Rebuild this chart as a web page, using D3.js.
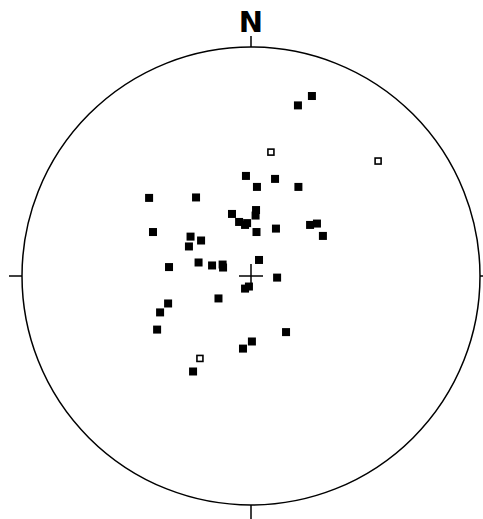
<!DOCTYPE html>
<html>
<head>
<meta charset="utf-8">
<script src="https://cdn.jsdelivr.net/npm/d3@7"></script>
<style>
  body { margin: 0; background: #fff; }
  svg { display: block; }
</style>
</head>
<body>
<div class="container"></div>
<script>
// projected positions on the net, unit circle (east, north)
var eastFilled = [0.266, 0.205, -0.022, 0.105, 0.026, 0.207, -0.445, -0.240, -0.083, 0.022,
    0.020, -0.052, -0.026, -0.017, 0.024, 0.109, 0.258, 0.288, 0.314, -0.428,
    -0.264, -0.218, -0.271, 0.035, -0.358, -0.229, -0.170, -0.124, -0.122, 0.114,
    -0.009, -0.026, -0.142, -0.362, -0.397, -0.410, 0.153, 0.004, -0.035, -0.253];
var northFilled = [0.786, 0.745, 0.437, 0.424, 0.389, 0.389, 0.341, 0.343, 0.271, 0.288,
    0.264, 0.236, 0.223, 0.231, 0.192, 0.207, 0.223, 0.229, 0.175, 0.192,
    0.172, 0.155, 0.129, 0.070, 0.039, 0.059, 0.046, 0.050, 0.037, -0.007,
    -0.046, -0.055, -0.098, -0.120, -0.159, -0.234, -0.245, -0.286, -0.317, -0.417];
var eastOpen = [0.087, 0.555, -0.223];
var northOpen = [0.541, 0.502, -0.360];
var northLabel = "N";

var WIDTH = 483, HEIGHT = 519;
var CX = 251, CY = 276, R = 229;

document.addEventListener('DOMContentLoaded', function () {
    var svg = d3.select(".container")
        .append("svg")
        .attr("width", WIDTH)
        .attr("height", HEIGHT);

    var x = d3.scaleLinear().domain([-1, 1]).range([CX - R, CX + R]);
    var y = d3.scaleLinear().domain([-1, 1]).range([CY + R, CY - R]);

    // primitive circle
    svg.append("circle")
        .attr("cx", x(0))
        .attr("cy", y(0))
        .attr("r", x(1) - x(0))
        .attr("fill", "none")
        .attr("stroke", "#000")
        .attr("stroke-width", 1.5);

    // ticks at the four cardinal points
    var tick = 13;
    var ticks = [
        [x(0), y(1), x(0), y(1) - tick + 2],
        [x(0), y(-1), x(0), y(-1) + tick + 2],
        [x(-1), y(0), x(-1) - tick, y(0)],
        [x(1), y(0), x(1) + tick, y(0)]
    ];
    svg.selectAll("line.tick")
        .data(ticks)
        .enter()
        .append("line")
        .attr("class", "tick")
        .attr("x1", function (d) { return d[0]; })
        .attr("y1", function (d) { return d[1]; })
        .attr("x2", function (d) { return d[2]; })
        .attr("y2", function (d) { return d[3]; })
        .attr("stroke", "#000")
        .attr("stroke-width", 1.5);

    // centre cross
    var arm = 12;
    svg.append("line")
        .attr("x1", x(0) - arm).attr("x2", x(0) + arm)
        .attr("y1", y(0)).attr("y2", y(0))
        .attr("stroke", "#000").attr("stroke-width", 1.5);
    svg.append("line")
        .attr("x1", x(0)).attr("x2", x(0))
        .attr("y1", y(0) - arm).attr("y2", y(0) + arm)
        .attr("stroke", "#000").attr("stroke-width", 1.5);

    svg.append("text")
        .attr("x", x(0))
        .attr("y", 32)
        .attr("text-anchor", "middle")
        .style("font-family", "'DejaVu Sans', sans-serif")
        .style("font-weight", "bold")
        .style("font-size", "29px")
        .text(northLabel);

    var filled = eastFilled.map(function (e, i) { return [e, northFilled[i]]; });
    var open = eastOpen.map(function (e, i) { return [e, northOpen[i]]; });

    var s = 8;
    svg.selectAll("rect.filled")
        .data(filled)
        .enter()
        .append("rect")
        .attr("class", "filled")
        .attr("x", function (d) { return x(d[0]) - s / 2; })
        .attr("y", function (d) { return y(d[1]) - s / 2; })
        .attr("width", s)
        .attr("height", s)
        .attr("fill", "#000");

    var so = 6;
    svg.selectAll("rect.open")
        .data(open)
        .enter()
        .append("rect")
        .attr("class", "open")
        .attr("x", function (d) { return x(d[0]) - so / 2; })
        .attr("y", function (d) { return y(d[1]) - so / 2; })
        .attr("width", so)
        .attr("height", so)
        .attr("fill", "#fff")
        .attr("stroke", "#000")
        .attr("stroke-width", 1.6);
});
</script>
</body>
</html>
